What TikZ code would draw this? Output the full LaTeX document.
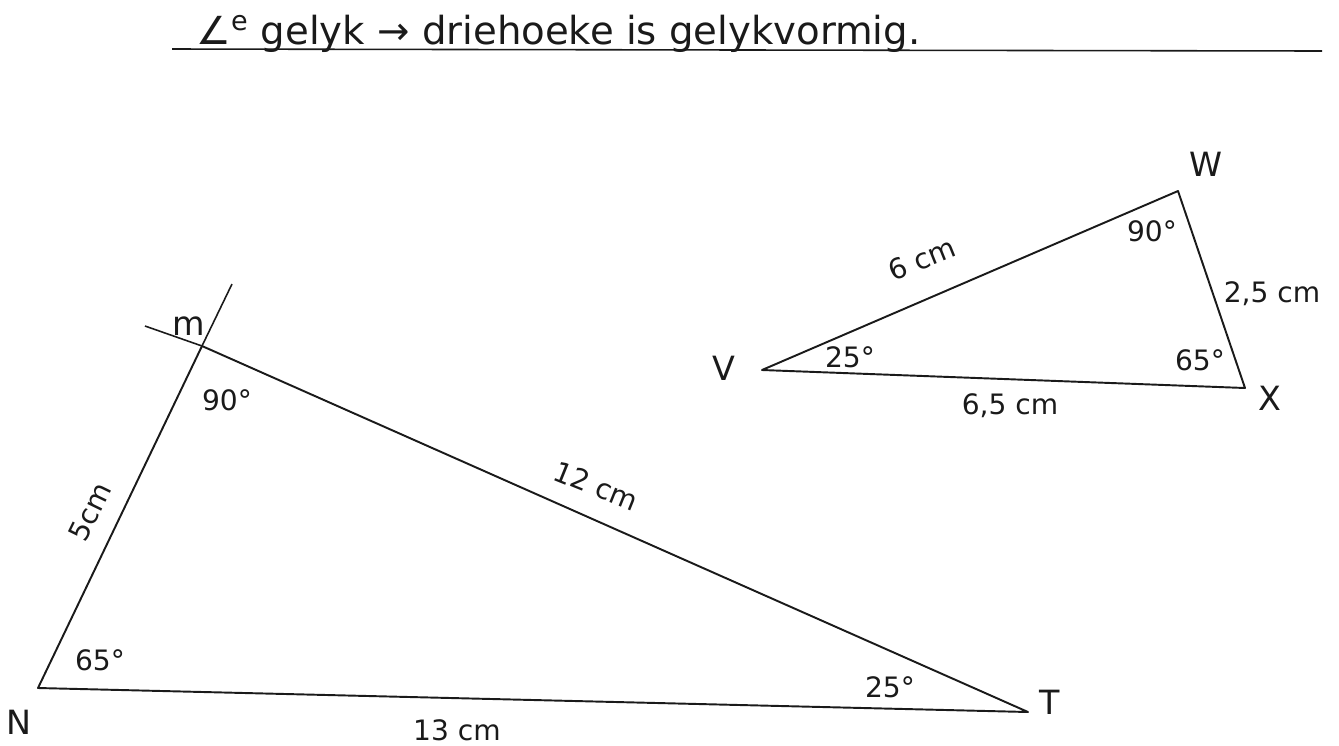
\documentclass[tikz,border=0pt]{standalone}
\usepackage{fontspec}
\setmainfont{DejaVu Sans}
\usepackage{tikz}
\usetikzlibrary{positioning,calc}
\definecolor{ink}{HTML}{1A1A1A}
\tikzset{
  side/.style={draw=ink, line width=1.1pt, line join=round},
  guide/.style={draw=ink, line width=0.9pt},
  vlabel/.style={font=\fontsize{19}{21}\selectfont, text=ink, inner sep=1pt},
  alabel/.style={font=\fontsize{16}{18}\selectfont, text=ink, inner sep=1pt},
  mlabel/.style={font=\fontsize{16}{18}\selectfont, text=ink, inner sep=1pt},
}

\begin{document}
\begin{tikzpicture}[x=0.02cm, y=-0.02cm]
\useasboundingbox (0,0) rectangle (1339,745);

% heading
\node[font=\fontsize{22}{24}\selectfont, text=ink, anchor=base west, inner sep=0pt]
  (head) at (196,44) {∠\textsuperscript{e} gelyk → driehoeke is gelykvormig.};
\coordinate (hl) at (172,49);
\coordinate (hr) at (1322,51);
\draw[guide] (hl) -- (hr);

% big triangle
\coordinate (M) at (202,346);
\coordinate (N) at (38,688);
\coordinate (T) at (1028,712);
\coordinate (Mup) at (232,284);
\coordinate (Mleft) at (145,326);
\draw[side] (M) -- (N) -- (T) -- cycle;
\draw[guide] (M) -- (Mup);
\draw[guide] (M) -- (Mleft);

\node[vlabel] (lM) at (189,326) {m};
\node[vlabel] (lN) at (19,722) {N};
\node[vlabel] (lT) at (1050,702) {T};
\node[alabel] (aM) at (227,400) {90°};
\node[alabel] (aN) at (100,660) {65°};
\node[alabel] (aT) at (890,687) {25°};
\node[mlabel, rotate=64] (sMN) at (90,512) {5cm};
\node[mlabel, rotate=-22] (sMT) at (596,486) {12 cm};
\node[mlabel] (sNT) at (457,730) {13 cm};

% small triangle
\coordinate (V) at (762,370);
\coordinate (W) at (1178,191);
\coordinate (X) at (1245,388);
\draw[side] (V) -- (W) -- (X) -- cycle;

\node[vlabel] (lV) at (724,368) {V};
\node[vlabel] (lW) at (1206,164) {W};
\node[vlabel] (lX) at (1270,398) {X};
\node[alabel] (aW) at (1152,231) {90°};
\node[alabel] (aV) at (850,357) {25°};
\node[alabel] (aX) at (1200,360) {65°};
\node[mlabel, rotate=22] (sVW) at (922,259) {6 cm};
\node[mlabel] (sWX) at (1272,294) {2,5 cm};
\node[mlabel] (sVX) at (1010,406) {6,5 cm};

\end{tikzpicture}
\end{document}
